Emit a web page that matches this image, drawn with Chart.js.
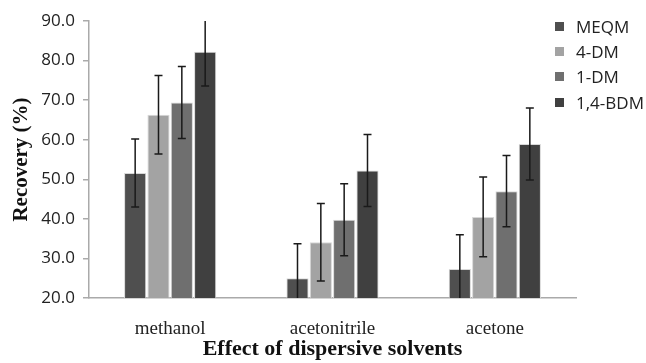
<!DOCTYPE html>
<html>
<head>
<meta charset="utf-8">
<script src="https://cdn.jsdelivr.net/npm/chart.js@4.4.1/dist/chart.umd.min.js"></script>
<style>
  html, body { margin: 0; padding: 0; background: #fff; }
  #wrap { position: relative; width: 646px; height: 363px; }
  #legend { position: absolute; left: 555px; top: 13.5px; font-family: "Open Sans", sans-serif; font-size: 17px; color: #222; }
  .item { display: flex; align-items: center; height: 25.4px; white-space: nowrap; }
  .sw { width: 9px; height: 9px; margin-right: 12px; }
</style>
</head>
<body>
<div id="wrap">
  <canvas id="c" width="646" height="363"></canvas>
  <div id="legend"></div>
</div>
<script>
const categories = ["methanol", "acetonitrile", "acetone"];
const seriesNames = ["MEQM", "4-DM", "1-DM", "1,4-BDM"];
const meqm   = [51.6, 25.0, 27.3];
const dm4    = [66.3, 34.1, 40.5];
const dm1    = [69.4, 39.8, 47.0];
const bdm14  = [82.2, 52.2, 58.9];
const meqmErr  = [8.6, 8.7, 8.7];
const dm4Err   = [9.9, 9.8, 10.1];
const dm1Err   = [9.1, 9.1, 9.0];
const bdm14Err = [8.6, 9.1, 9.1];
const yTicks = [20, 30, 40, 50, 60, 70, 80, 90];

const colors = ["#4f4f4f", "#a3a3a3", "#6f6f6f", "#404040"];
const values = [meqm, dm4, dm1, bdm14];
const errors = [meqmErr, dm4Err, dm1Err, bdm14Err];

const datasets = seriesNames.map((n, i) => ({
  label: n,
  data: values[i],
  errors: errors[i],
  backgroundColor: colors[i],
  borderColor: "#d8d8d8",
  borderWidth: 1,
  categoryPercentage: 0.575,
  barPercentage: 0.95
}));

const errorBars = {
  id: "errorBars",
  afterDatasetsDraw(chart) {
    const ctx = chart.ctx;
    const area = chart.chartArea;
    const ys = chart.scales.y;
    ctx.save();
    ctx.beginPath();
    ctx.rect(area.left, area.top, area.right - area.left, area.bottom - area.top);
    ctx.clip();
    ctx.strokeStyle = "#1a1a1a";
    ctx.lineWidth = 1.5;
    chart.data.datasets.forEach((ds, di) => {
      const meta = chart.getDatasetMeta(di);
      meta.data.forEach((bar, j) => {
        const v = ds.data[j], e = ds.errors[j];
        const x = bar.x;
        const yt = ys.getPixelForValue(v + e);
        const yb = ys.getPixelForValue(v - e);
        ctx.beginPath();
        ctx.moveTo(x, yt); ctx.lineTo(x, yb);
        ctx.moveTo(x - 4, yt); ctx.lineTo(x + 4, yt);
        ctx.moveTo(x - 4, yb); ctx.lineTo(x + 4, yb);
        ctx.stroke();
      });
    });
    ctx.restore();
  }
};

const chart = new Chart(document.getElementById("c"), {
  type: "bar",
  data: { labels: categories, datasets },
  plugins: [errorBars],
  options: {
    responsive: false,
    devicePixelRatio: 1,
    animation: false,
    layout: { padding: { left: 0, right: 70, top: 21, bottom: 0 } },
    plugins: { legend: { display: false }, tooltip: { enabled: false } },
    scales: {
      x: {
        grid: { display: false },
        border: { display: true, color: "#aaaaaa", width: 1.5 },
        ticks: { color: "#222", padding: 12, font: { family: "Liberation Serif", size: 19 } },
        title: { display: true, text: "Effect of dispersive solvents", color: "#111",
                 padding: { top: 0, bottom: 0 },
                 font: { family: "Liberation Serif", size: 22, weight: "bold" } },
        afterFit(s) { s.height = 65; }
      },
      y: {
        min: 20, max: 90,
        afterBuildTicks(s) { s.ticks = yTicks.map(v => ({ value: v })); },
        grid: { display: true, drawOnChartArea: false, drawTicks: true, tickLength: 6, color: "#aaaaaa", lineWidth: 1.5 },
        border: { display: true, color: "#aaaaaa", width: 1.5 },
        ticks: { color: "#222", padding: 8, font: { family: "Open Sans", size: 17 },
                 callback: v => Number(v).toFixed(1) },
        title: { display: true, text: "Recovery (%)", color: "#111",
                 padding: { top: 9, bottom: 0 },
                 font: { family: "Liberation Serif", size: 21, weight: "bold" } },
        afterFit(s) { s.width = 89; }
      }
    }
  }
});

const leg = document.getElementById("legend");
seriesNames.forEach((n, i) => {
  const d = document.createElement("div");
  d.className = "item";
  const sw = document.createElement("span");
  sw.className = "sw";
  sw.style.background = colors[i];
  const t = document.createElement("span");
  t.textContent = n;
  d.appendChild(sw); d.appendChild(t);
  leg.appendChild(d);
});
</script>
</body>
</html>
